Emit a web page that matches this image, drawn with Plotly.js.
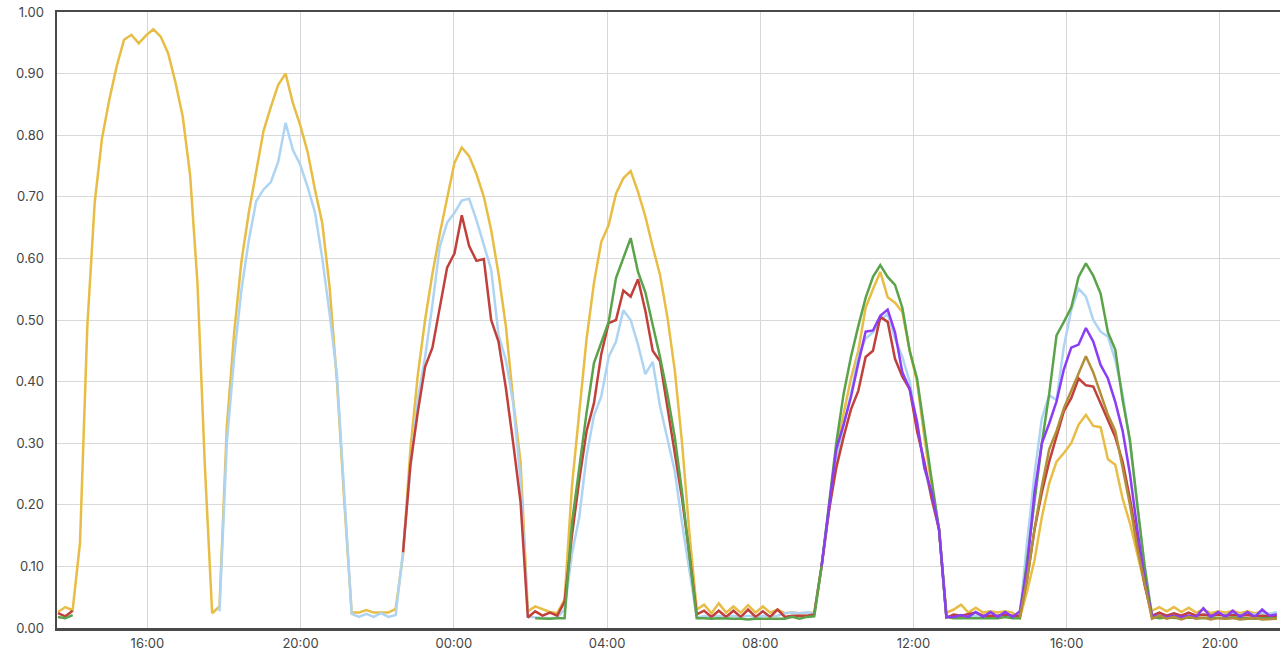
<!DOCTYPE html>
<html>
<head>
<meta charset="utf-8">
<script src="https://cdn.plot.ly/plotly-3.0.1.min.js"></script>
<style>
html,body{margin:0;padding:0;background:#fff;}
#chart{width:1280px;height:651px;}
</style>
</head>
<body>
<div id="chart"></div>
<script>
// Sampling grid: first sample and step (minutes)
const startTime = Date.UTC(2024, 4, 1, 13, 40, 0);
const stepMinutes = 11.5;

// Series values (index 0 = first sample of the grid; each array starts at its own index)
const yellowStart = 0;
const yellowValues = [
  0.026,0.034,0.029,0.138,0.49,0.69,0.795,0.858,0.912,0.955,
  0.963,0.949,0.962,0.972,0.960,0.933,0.886,0.830,0.735,0.56,
  0.265,0.024,0.035,0.327,0.48,0.596,0.675,0.742,0.807,0.846,
  0.882,0.90,0.852,0.816,0.773,0.712,0.657,0.553,0.40,0.205,
  0.025,0.025,0.029,0.025,0.025,0.025,0.031,0.119,0.29,0.41,
  0.50,0.575,0.64,0.70,0.755,0.780,0.766,0.737,0.70,0.646,
  0.575,0.49,0.37,0.27,0.027,0.035,0.030,0.026,0.024,0.046,
  0.23,0.35,0.47,0.56,0.627,0.654,0.705,0.73,0.742,0.708,
  0.668,0.619,0.573,0.505,0.419,0.30,0.154,0.03,0.038,0.024,
  0.040,0.025,0.035,0.025,0.037,0.025,0.035,0.025,0.030,0.024,
  0.025,0.024,0.024,0.025,0.10,0.19,0.29,0.35,0.405,0.45,
  0.52,0.55,0.578,0.537,0.528,0.513,0.45,0.40,0.31,0.23,
  0.16,0.025,0.03,0.038,0.025,0.033,0.025,0.027,0.025,0.027,
  0.025,0.016,0.06,0.11,0.18,0.235,0.27,0.284,0.30,0.33,
  0.346,0.328,0.326,0.274,0.265,0.21,0.17,0.12,0.07,0.028,
  0.034,0.027,0.034,0.026,0.033,0.025,0.030,0.024,0.027,0.025,
  0.028,0.024,0.027,0.024,0.026,0.022,0.024
];

const blueStart = 22;
const blueValues = [
  0.027,0.30,0.44,0.55,0.63,0.693,0.712,0.724,0.757,0.82,
  0.776,0.752,0.716,0.675,0.60,0.51,0.41,0.21,0.023,0.018,
  0.023,0.018,0.024,0.018,0.021,0.125,0.26,0.37,0.44,0.525,
  0.619,0.658,0.674,0.694,0.697,0.662,0.62,0.582,0.476,0.435,
  0.365,0.24,0.018,0.017,0.017,0.016,0.017,0.03,0.12,0.18,
  0.28,0.345,0.376,0.44,0.465,0.516,0.50,0.46,0.412,0.432,
  0.36,0.31,0.255,0.17,0.09,0.017,0.019,0.018,0.02,0.018,
  0.02,0.018,0.02,0.018,0.02,0.019,0.02,0.024,0.025,0.024,
  0.025,0.024,0.10,0.19,0.27,0.33,0.38,0.44,0.47,0.48,
  0.50,0.51,0.47,0.44,0.40,0.33,0.26,0.21,0.16,0.018,
  0.019,0.02,0.018,0.02,0.019,0.02,0.019,0.02,0.019,0.02,
  0.14,0.25,0.34,0.378,0.37,0.457,0.516,0.551,0.538,0.50,
  0.481,0.473,0.435,0.38,0.30,0.20,0.10,0.02,0.022,0.02,
  0.022,0.02,0.022,0.02,0.022,0.02,0.022,0.021,0.023,0.021,
  0.023,0.022,0.024,0.023,0.026
];

const redStart = 0;
const redValues = [
  0.024,0.019,0.028,null,null,null,null,null,null,null,
  null,null,null,null,null,null,null,null,null,null,
  null,null,null,null,null,null,null,null,null,null,
  null,null,null,null,null,null,null,null,null,null,
  null,null,null,null,null,null,null,0.123,0.265,0.35,
  0.424,0.455,0.522,0.585,0.608,0.67,0.62,0.596,0.599,0.50,
  0.465,0.39,0.30,0.205,0.017,0.027,0.02,0.025,0.02,0.043,
  0.15,0.24,0.32,0.365,0.445,0.495,0.50,0.548,0.538,0.566,
  0.515,0.45,0.433,0.36,0.29,0.21,0.12,0.022,0.028,0.018,
  0.028,0.018,0.028,0.018,0.03,0.018,0.027,0.018,0.03,0.018,
  0.02,0.02,0.02,0.022,0.10,0.19,0.26,0.31,0.355,0.385,
  0.44,0.45,0.505,0.497,0.437,0.408,0.388,0.32,0.27,0.21,
  0.16,0.017,0.022,0.02,0.022,0.025,0.02,0.02,0.02,0.022,
  0.02,0.02,0.08,0.16,0.22,0.27,0.31,0.352,0.373,0.405,
  0.394,0.392,0.365,0.337,0.31,0.27,0.21,0.14,0.07,0.02,
  0.025,0.02,0.024,0.02,0.025,0.02,0.022,0.02,0.022,0.02,
  0.021,0.02,0.021,0.019,0.02,0.019,0.02
];

const greenStart = 0;
const greenValues = [
  0.018,0.016,0.021,null,null,null,null,null,null,null,
  null,null,null,null,null,null,null,null,null,null,
  null,null,null,null,null,null,null,null,null,null,
  null,null,null,null,null,null,null,null,null,null,
  null,null,null,null,null,null,null,null,null,null,
  null,null,null,null,null,null,null,null,null,null,
  null,null,null,null,null,0.016,0.015,0.015,0.016,0.016,
  0.17,0.26,0.35,0.43,0.465,0.497,0.568,0.60,0.633,0.578,
  0.545,0.492,0.44,0.38,0.31,0.22,0.12,0.016,0.016,0.015,
  0.016,0.015,0.015,0.015,0.014,0.015,0.015,0.014,0.015,0.015,
  0.018,0.015,0.018,0.019,0.10,0.20,0.30,0.38,0.44,0.49,
  0.536,0.57,0.589,0.57,0.557,0.52,0.45,0.405,0.32,0.24,
  0.16,0.018,0.016,0.016,0.017,0.016,0.016,0.017,0.016,0.018,
  0.016,0.016,0.11,0.21,0.30,0.38,0.475,0.497,0.52,0.57,
  0.592,0.572,0.543,0.48,0.452,0.37,0.305,0.20,0.10,0.018,
  0.016,0.017,0.016,0.016,0.017,0.016,0.016,0.017,0.016,0.016,
  0.017,0.016,0.016,0.015,0.016,0.016,0.016
];

const purpleStart = 104;
const purpleValues = [
  0.10,0.20,0.29,0.33,0.375,0.43,0.481,0.483,0.507,0.517,
  0.48,0.415,0.388,0.335,0.26,0.22,0.16,0.018,0.018,0.021,
  0.018,0.026,0.018,0.026,0.018,0.026,0.018,0.027,0.10,0.22,
  0.30,0.332,0.368,0.42,0.455,0.46,0.487,0.465,0.427,0.405,
  0.367,0.32,0.25,0.16,0.08,0.02,0.02,0.018,0.02,0.018,
  0.02,0.018,0.032,0.018,0.026,0.018,0.028,0.018,0.026,0.018,
  0.03,0.02,0.022
];

const oliveStart = 131;
const oliveValues = [
  0.017,0.08,0.16,0.23,0.29,0.32,0.357,0.385,0.413,0.441,
  0.415,0.381,0.346,0.32,0.26,0.20,0.13,0.07,0.015,0.02,
  0.015,0.018,0.014,0.018,0.015,0.017,0.014,0.016,0.015,0.016,
  0.014,0.015,0.016,0.014,0.015,0.015
];

const seriesColors = {
  yellow: '#e8bd45',
  blue: '#aed4f3',
  red: '#c1403c',
  green: '#5ba34a',
  purple: '#8b3df5',
  olive: '#b38e38'
};

function stamp(i) {
  const d = new Date(startTime + i * stepMinutes * 60000);
  return d.toISOString().slice(0, 19).replace('T', ' ');
}

function makeTrace(start, values, color) {
  const x = values.map((_, k) => stamp(start + k));
  return {
    type: 'scatter', mode: 'lines', x: x, y: values,
    line: {color: color, width: 2.5},
    connectgaps: false, hoverinfo: 'skip'
  };
}

const data = [
  makeTrace(yellowStart, yellowValues, seriesColors.yellow),
  makeTrace(blueStart, blueValues, seriesColors.blue),
  makeTrace(redStart, redValues, seriesColors.red),
  makeTrace(greenStart, greenValues, seriesColors.green),
  makeTrace(purpleStart, purpleValues, seriesColors.purple),
  makeTrace(oliveStart, oliveValues, seriesColors.olive)
];

const tickFont = {family: 'Inter, "Noto Sans", sans-serif', size: 13, color: '#444'};

const layout = {
  width: 1280, height: 651,
  margin: {l: 57, r: 0, t: 12, b: 23, pad: 0},
  paper_bgcolor: '#ffffff', plot_bgcolor: '#ffffff',
  showlegend: false,
  xaxis: {
    type: 'date',
    range: ['2024-05-01 13:38:30', '2024-05-02 21:34:00'],
    tick0: '2024-05-01 00:00:00', dtick: 4 * 3600 * 1000,
    tickformat: '%H:%M',
    showgrid: true, gridcolor: '#d6d6d6', gridwidth: 1,
    showline: true, linecolor: '#4a4a4a', linewidth: 2.5, mirror: true,
    ticks: '', zeroline: false, tickfont: tickFont, ticklabelstandoff: 2
  },
  yaxis: {
    range: [0, 1], dtick: 0.1, tick0: 0, tickformat: '.2f',
    showgrid: true, gridcolor: '#d9d9d9', gridwidth: 1,
    showline: true, linecolor: '#4a4a4a', linewidth: 2.5,
    ticks: '', zeroline: false, tickfont: tickFont, ticklabelstandoff: 8
  }
};

Plotly.newPlot('chart', data, layout, {staticPlot: true, displayModeBar: false});
</script>
</body>
</html>
